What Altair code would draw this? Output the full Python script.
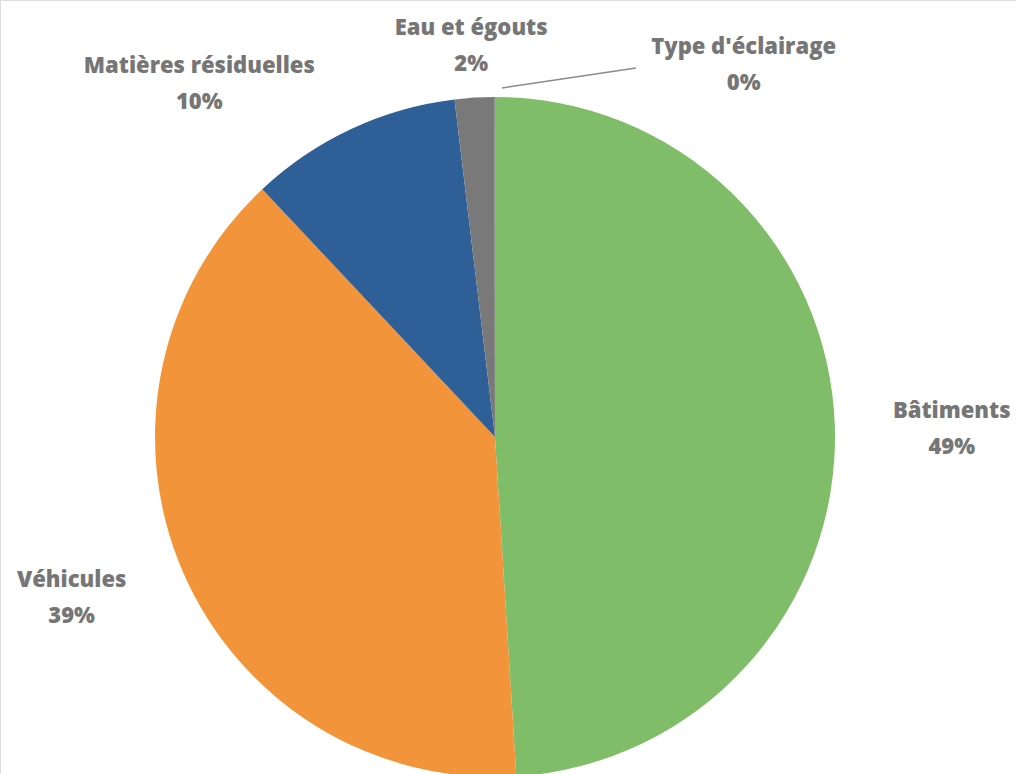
import altair as alt
import pandas as pd

categories = ["Bâtiments", "Véhicules", "Matières résiduelles", "Eau et égouts", "Type d'éclairage"]
values = [49.0, 39.0, 10.1, 1.87, 0.03]
colors = ["#7FBD69", "#F2953A", "#2E5F97", "#797979", "#797979"]

total = sum(values)
df = pd.DataFrame({
    "cat": categories,
    "value": values,
    "idx": list(range(len(categories))),
})
df["label"] = [f"{c}\n{round(v / total * 100):.0f}%" for c, v in zip(categories, values)]

CX, CY, R = 495, 437, 340
FONT = "Open Sans"
TXT = "#767676"

arcs = alt.Chart(df).mark_arc(outerRadius=R).encode(
    theta=alt.Theta("value:Q", stack=True),
    order=alt.Order("idx:Q"),
    color=alt.Color("cat:N", scale=alt.Scale(domain=categories, range=colors), legend=None),
    x=alt.value(CX), y=alt.value(CY),
)

label_base = alt.Chart(df).transform_window(
    cum="sum(value)", sort=[alt.SortField("idx", order="ascending")], frame=[None, 0]
).transform_joinaggregate(
    tot="sum(value)"
).transform_calculate(
    mid="(datum.cum - datum.value / 2) / datum.tot * 2 * PI"
)


def label_layer(i, radius, dx, dy):
    return label_base.transform_filter(f"datum.idx == {i}").mark_text(
        radius=radius, dx=dx, dy=dy, font=FONT, fontSize=22, fontWeight=800,
        color=TXT, lineBreak="\n", lineHeight=36, align="center", baseline="middle",
    ).encode(
        theta=alt.Theta("mid:Q", scale=None),
        text="label:N", x=alt.value(CX), y=alt.value(CY),
    )


labels = [
    label_layer(0, 458, -1, -12),
    label_layer(1, 458, -3, -39),
    label_layer(2, 458, -102, 44),
    label_layer(3, 393, 0, -17),
    label_layer(4, 375, 249, -15),
]

leader = alt.Chart(df).transform_filter("datum.idx == 4").mark_rule(
    color="#8a8a8a", strokeWidth=1.5
).encode(x=alt.value(502), y=alt.value(88), x2=alt.value(636), y2=alt.value(68))

chart = alt.layer(arcs, *labels, leader).properties(
    width=1016, height=774,
    autosize=alt.AutoSizeParams(type="none"),
    padding=0,
).configure_view(stroke=None).configure(background="white")

chart.save("out.html", embed_options={"renderer": "svg", "actions": False})
